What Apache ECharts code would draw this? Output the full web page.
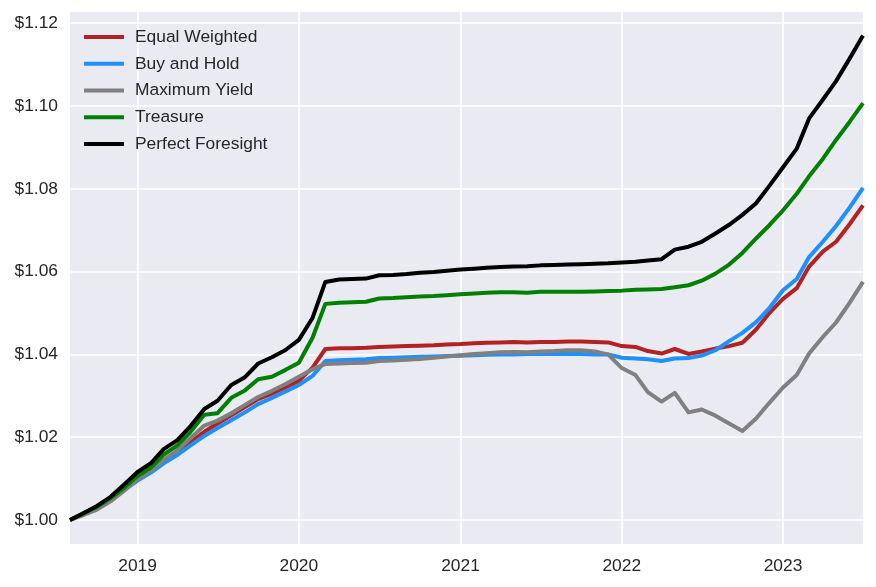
<!DOCTYPE html>
<html>
<head>
<meta charset="utf-8">
<script src="https://cdn.jsdelivr.net/npm/echarts@6/dist/echarts.min.js"></script>
<style>
html,body{margin:0;padding:0;background:#fff;}
#chart{width:876px;height:587px;}
</style>
</head>
<body>
<div id="chart"></div>
<script>
const dates = [
 '2018-08-01','2018-09-01','2018-10-01','2018-11-01','2018-12-01',
 '2019-01-01','2019-02-01','2019-03-01','2019-04-01','2019-05-01','2019-06-01','2019-07-01','2019-08-01','2019-09-01','2019-10-01','2019-11-01','2019-12-01',
 '2020-01-01','2020-02-01','2020-03-01','2020-04-01','2020-05-01','2020-06-01','2020-07-01','2020-08-01','2020-09-01','2020-10-01','2020-11-01','2020-12-01',
 '2021-01-01','2021-02-01','2021-03-01','2021-04-01','2021-05-01','2021-06-01','2021-07-01','2021-08-01','2021-09-01','2021-10-01','2021-11-01','2021-12-01',
 '2022-01-01','2022-02-01','2022-03-01','2022-04-01','2022-05-01','2022-06-01','2022-07-01','2022-08-01','2022-09-01','2022-10-01','2022-11-01','2022-12-01',
 '2023-01-01','2023-02-01','2023-03-01','2023-04-01','2023-05-01','2023-06-01','2023-07-01'
];

const equalWeighted = [
 1.0000,1.0015,1.0031,1.0052,1.0074,
 1.0098,1.0119,1.0142,1.0163,1.0188,1.0213,1.0233,1.0253,1.0273,1.0292,1.0305,1.0320,
 1.0336,1.0368,1.0413,1.0415,1.0415,1.0416,1.0418,1.0419,1.0420,1.0421,1.0422,1.0424,
 1.0425,1.0427,1.0428,1.0429,1.0430,1.0429,1.0430,1.0430,1.0431,1.0431,1.0430,1.0429,
 1.0420,1.0418,1.0408,1.0402,1.0413,1.0401,1.0407,1.0414,1.0420,1.0428,1.0460,1.0500,
 1.0534,1.0560,1.0612,1.0648,1.0672,1.0715,1.0760
];
const buyAndHold = [
 1.0000,1.0014,1.0030,1.0050,1.0072,
 1.0095,1.0115,1.0137,1.0157,1.0180,1.0203,1.0222,1.0241,1.0260,1.0280,1.0295,1.0310,
 1.0326,1.0348,1.0384,1.0386,1.0387,1.0388,1.0391,1.0392,1.0393,1.0394,1.0395,1.0396,
 1.0397,1.0398,1.0399,1.0400,1.0400,1.0401,1.0401,1.0401,1.0401,1.0401,1.0400,1.0400,
 1.0392,1.0390,1.0388,1.0384,1.0390,1.0391,1.0397,1.0410,1.0432,1.0452,1.0478,1.0512,
 1.0555,1.0582,1.0635,1.0672,1.0710,1.0755,1.0802
];
const maximumYield = [
 1.0000,1.0012,1.0025,1.0045,1.0070,
 1.0098,1.0120,1.0145,1.0168,1.0198,1.0228,1.0240,1.0258,1.0278,1.0297,1.0312,1.0328,
 1.0346,1.0364,1.0377,1.0378,1.0379,1.0380,1.0384,1.0385,1.0387,1.0389,1.0392,1.0395,
 1.0398,1.0401,1.0403,1.0405,1.0406,1.0405,1.0407,1.0408,1.0410,1.0410,1.0407,1.0400,
 1.0367,1.0350,1.0309,1.0286,1.0307,1.0260,1.0267,1.0252,1.0233,1.0215,1.0245,1.0283,
 1.0320,1.0350,1.0402,1.0442,1.0477,1.0525,1.0575
];
const treasure = [
 1.0000,1.0016,1.0032,1.0053,1.0077,
 1.0106,1.0127,1.0158,1.0180,1.0213,1.0254,1.0258,1.0295,1.0313,1.0340,1.0346,1.0362,
 1.0380,1.0440,1.0522,1.0525,1.0526,1.0527,1.0535,1.0536,1.0538,1.0540,1.0541,1.0543,
 1.0545,1.0547,1.0549,1.0550,1.0550,1.0549,1.0551,1.0551,1.0551,1.0551,1.0552,1.0553,
 1.0554,1.0556,1.0557,1.0558,1.0562,1.0567,1.0578,1.0595,1.0617,1.0645,1.0680,1.0712,
 1.0748,1.0788,1.0830,1.0872,1.0918,1.0962,1.1007
];
const perfectForesight = [
 1.0000,1.0017,1.0034,1.0056,1.0085,
 1.0116,1.0138,1.0171,1.0193,1.0227,1.0268,1.0288,1.0326,1.0345,1.0378,1.0393,1.0410,
 1.0435,1.0488,1.0575,1.0581,1.0582,1.0583,1.0591,1.0592,1.0594,1.0597,1.0599,1.0602,
 1.0605,1.0607,1.0609,1.0611,1.0612,1.0613,1.0615,1.0616,1.0617,1.0618,1.0619,1.0620,
 1.0622,1.0624,1.0627,1.0630,1.0653,1.0660,1.0672,1.0692,1.0713,1.0737,1.0765,1.0807,
 1.0852,1.0897,1.0970,1.1015,1.1060,1.1115,1.1170
];

const yTicks = [1.00, 1.02, 1.04, 1.06, 1.08, 1.10, 1.12];
const xTickDates = ['2019-01-01','2020-01-01','2021-01-01','2022-01-01','2023-01-01'];

const seriesDefs = [
  {name: 'Equal Weighted', values: equalWeighted, color: '#B22222'},
  {name: 'Buy and Hold', values: buyAndHold, color: '#1E90FF'},
  {name: 'Maximum Yield', values: maximumYield, color: '#808080'},
  {name: 'Treasure', values: treasure, color: '#008000'},
  {name: 'Perfect Foresight', values: perfectForesight, color: '#000000'}
];

function ts(s){ return new Date(s + 'T00:00:00').getTime(); }

const chart = echarts.init(document.getElementById('chart'), null, {renderer: 'canvas'});
const font = '"Liberation Sans", Arial, "DejaVu Sans", sans-serif';
const xTicks = xTickDates.map(ts);

chart.setOption({
  animation: false,
  backgroundColor: '#ffffff',
  textStyle: {fontFamily: font},
  grid: {left: 70, right: 13, top: 12, bottom: 43, show: true, backgroundColor: '#EAEAF2', borderWidth: 0, containLabel: false},
  legend: {
    orient: 'vertical', left: 79, top: 22,
    icon: 'rect', itemWidth: 40, itemHeight: 4, itemGap: 6.75,
    textStyle: {fontSize: 17.4, color: '#262626', fontFamily: font, lineHeight: 20, padding: [0, 0, 0, 6]},
    data: seriesDefs.map(s => s.name),
    selectedMode: false
  },
  xAxis: {
    type: 'value',
    min: ts(dates[0]), max: ts(dates[dates.length - 1]),
    axisLine: {show: false},
    axisTick: {show: false, customValues: xTicks},
    axisLabel: {customValues: xTicks, fontSize: 17.4, color: '#262626', margin: 14,
      formatter: v => String(new Date(v).getFullYear())},
    splitLine: {show: true, lineStyle: {color: '#ffffff', width: 1.6}}
  },
  yAxis: {
    type: 'value',
    min: 0.9942, max: 1.1227,
    axisLine: {show: false},
    axisTick: {show: false, customValues: yTicks},
    axisLabel: {customValues: yTicks, fontSize: 17.4, color: '#262626', margin: 12,
      formatter: v => '$' + Number(v).toFixed(2)},
    splitLine: {show: true, lineStyle: {color: '#ffffff', width: 1.6}}
  },
  series: seriesDefs.map(s => ({
    name: s.name,
    type: 'line',
    data: dates.map((d, i) => [ts(d), s.values[i]]),
    showSymbol: false,
    symbol: 'none',
    color: s.color,
    lineStyle: {color: s.color, width: 4, join: 'round'},
    itemStyle: {color: s.color},
    emphasis: {disabled: true},
    silent: true
  }))
});
</script>
</body>
</html>
